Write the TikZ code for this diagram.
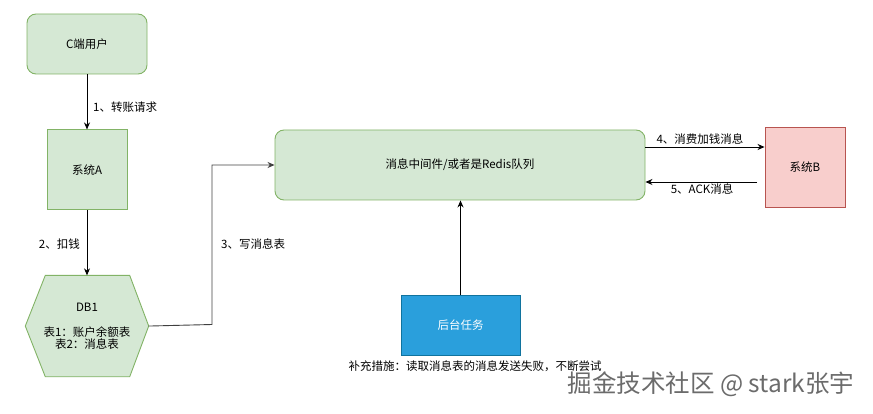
\documentclass[tikz,border=0pt]{standalone}
\usepackage{fontspec}
\setmainfont{Noto Sans CJK SC}
\usetikzlibrary{positioning}
\usetikzlibrary{arrows.meta}
\usetikzlibrary{backgrounds}

\definecolor{gfill}{HTML}{D5E8D4}
\definecolor{gline}{HTML}{82B366}
\definecolor{rfill}{HTML}{F8CECC}
\definecolor{rline}{HTML}{B85450}
\definecolor{bfill}{HTML}{2A9FDC}
\definecolor{bline}{HTML}{10739E}

\begin{document}
\begin{tikzpicture}[x=1pt, y=-1pt, node distance={55pt}, font=\fontsize{11.5}{12.5}\selectfont,
    main/.style = {draw=gline, fill=gfill, line width=0.9pt, rounded corners=9pt, inner sep=0pt},
    square/.style = {draw=gline, fill=gfill, line width=0.9pt, inner sep=0pt, minimum width=80pt, minimum height=80pt},
    hexa/.style = {draw=gline, fill=gfill, line width=0.9pt},
    link/.style = {line width=0.9pt, -{Stealth[length=7pt,width=6pt]}},
    tag/.style = {inner sep=0pt}]
    \useasboundingbox (0,0) rectangle (873,414);
    \node[main, minimum width=120pt, minimum height=60pt] (user) at (87,44) {C端用户};
    \node[square] (sysa) [below=of user] {系统A};
    \node[align=center, minimum width=123pt, minimum height=101pt, inner sep=0pt] (db1) [below=65pt of sysa] {DB1\\[12.5pt]表1：账户余额表\\表2：消息表};
    \begin{scope}[on background layer]
        \draw[hexa] (db1.west) -- ([xshift=20pt]db1.north west) -- ([xshift=-19pt]db1.north east) -- (db1.east)
            -- ([xshift=-19pt]db1.south east) -- ([xshift=20pt]db1.south west) -- cycle;
    \end{scope}
    \node[main, minimum width=370pt, minimum height=70pt] (mq) at (460,165) {消息中间件/或者是Redis队列};
    \node[square, draw=rline, fill=rfill] (sysb) at (805,167) {系统B};
    \node[draw=bline, fill=bfill, text=white, line width=0.9pt, minimum width=119pt, minimum height=60pt] (task) at (460.5,325) {后台任务};
    \node[tag] (note) at (475,366) {补充措施：读取消息表的消息发送失败，不断尝试};
    \node[tag, text=black!58, font=\fontsize{24.5}{26}\selectfont] (mark) at (711,384) {掘金技术社区 @ stark张宇};
    \coordinate (ack) at (757,182);
    \draw[link] (user) -- (sysa);
    \node[tag, anchor=west] at (93,107) {1、转账请求};
    \draw[link] (sysa) -- (db1);
    \node[tag, anchor=east] at (80,244) {2、扣钱};
    \draw[link, black!75] (db1.east) -- (212,324.5) |- (mq.west);
    \node[tag, anchor=west] at (221,244) {3、写消息表};
    \draw[link] ([yshift=18pt]mq.east) -- ([yshift=18pt]mq.east -| sysb.west);
    \node[tag] at (700,139) {4、消费加钱消息};
    \draw[link] (ack) -- (ack -| mq.east);
    \node[tag] at (702,189) {5、ACK消息};
    \draw[link] (task) -- (task |- mq.south);
\end{tikzpicture}
\end{document}
